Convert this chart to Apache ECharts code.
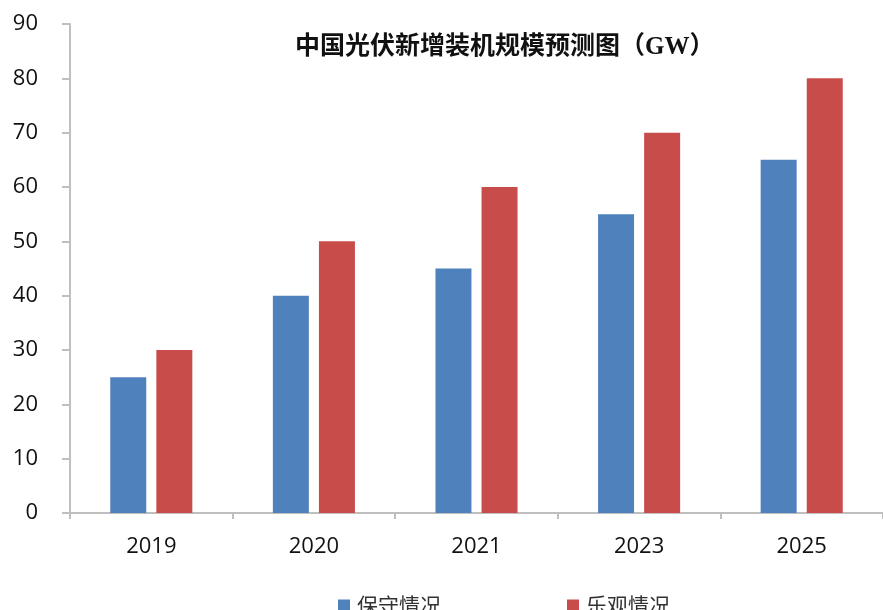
<!DOCTYPE html>
<html>
<head>
<meta charset="utf-8">
<script src="https://cdn.jsdelivr.net/npm/echarts@6/dist/echarts.min.js"></script>
<style>html,body{margin:0;padding:0;background:#fff}#c{width:883px;height:610px}</style>
</head>
<body>
<div id="c"></div>
<script>
var categories = ['2019', '2020', '2021', '2023', '2025'];
var conservative = [25, 40, 45, 55, 65];
var optimistic = [30, 50, 60, 70, 80];
var seriesNames = ['保守情况', '乐观情况'];
var titleText = '中国光伏新增装机规模预测图（GW）';

var chart = echarts.init(document.getElementById('c'), null, {renderer: 'canvas'});
var axisGray = '#BFBFBF';
chart.setOption({
  animation: false,
  backgroundColor: '#fff',
  title: {
    text: titleText,
    left: 290, top: 30,
    textStyle: {fontFamily: '"Liberation Serif", "Noto Sans CJK SC", serif', fontWeight: 'bold', fontSize: 25, color: '#111'}
  },
  legend: {
    data: seriesNames,
    left: 333, top: 590,
    itemWidth: 12, itemHeight: 12, itemGap: 126,
    icon: 'rect',
    textStyle: {fontFamily: '"Noto Sans CJK SC", sans-serif', fontSize: 21, color: '#333', padding: [0,0,0,2]}
  },
  grid: {left: 70, top: 24, width: 817, bottom: 97, containLabel: false},
  xAxis: {
    type: 'category', data: categories,
    axisLine: {lineStyle: {color: axisGray, width: 2}},
    axisTick: {show: true, length: 6, lineStyle: {color: axisGray, width: 2}},
    axisLabel: {margin: 23, fontSize: 22, color: '#111', fontFamily: '"Open Sans", "Noto Sans", sans-serif'}
  },
  yAxis: {
    type: 'value', min: 0, max: 90, interval: 10,
    splitLine: {show: false},
    axisLine: {show: true, lineStyle: {color: axisGray, width: 2}},
    axisTick: {show: true, length: 8, lineStyle: {color: axisGray, width: 2}},
    axisLabel: {margin: 32, fontSize: 22, color: '#111', fontFamily: '"Open Sans", "Noto Sans", sans-serif'}
  },
  series: [
    {name: seriesNames[0], type: 'bar', data: conservative, barWidth: 36, barGap: '28%', itemStyle: {color: '#4F81BD'}},
    {name: seriesNames[1], type: 'bar', data: optimistic, barWidth: 36, itemStyle: {color: '#C84C4A'}}
  ]
});
</script>
</body>
</html>
